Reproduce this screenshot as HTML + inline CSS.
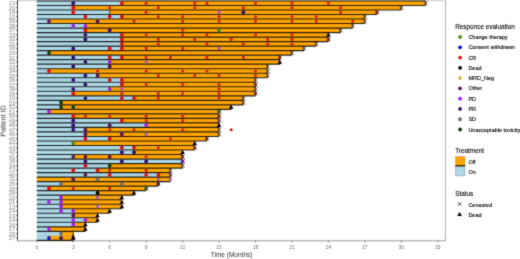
<!DOCTYPE html>
<html><head><meta charset="utf-8"><title>Swimmer plot</title>
<style>
html,body{margin:0;padding:0;background:#fff;}
body{width:520px;height:259px;overflow:hidden;}
svg{display:block;font-family:"Liberation Sans",sans-serif;will-change:transform;}
</style></head><body>
<svg width="520" height="259" viewBox="0 0 520 259">
<defs><filter id="soft" x="0" y="0" width="520" height="259" filterUnits="userSpaceOnUse" color-interpolation-filters="sRGB"><feConvolveMatrix order="3" kernelMatrix="1 2 1 2 16 2 1 2 1" edgeMode="duplicate"/></filter></defs>
<g filter="url(#soft)">
<rect width="520" height="259" fill="#fff"/>
<line x1="17.5" y1="0.6" x2="443.8" y2="0.6" stroke="#d6d6d6" stroke-width="1.2"/>
<line x1="445.4" y1="0" x2="445.4" y2="240.8" stroke="#a4a4a4" stroke-width="0.9"/>
<line x1="17.5" y1="0" x2="17.5" y2="240.8" stroke="#333" stroke-width="0.9"/>
<line x1="17.5" y1="240.8" x2="445.6" y2="240.8" stroke="#9a9a9a" stroke-width="1"/>
<rect x="36.8" y="0.95" width="85.05" height="4.52" fill="#add8e6"/>
<rect x="121.85" y="0.95" width="303.75" height="4.52" fill="#ffa500"/>
<rect x="36.8" y="5.47" width="36.45" height="4.52" fill="#add8e6"/>
<rect x="73.25" y="5.47" width="328.05" height="4.52" fill="#ffa500"/>
<rect x="36.8" y="9.99" width="72.9" height="4.52" fill="#add8e6"/>
<rect x="109.7" y="9.99" width="267.3" height="4.52" fill="#ffa500"/>
<rect x="36.8" y="14.5" width="85.05" height="4.52" fill="#add8e6"/>
<rect x="121.85" y="14.5" width="243" height="4.52" fill="#ffa500"/>
<rect x="36.8" y="19.02" width="12.15" height="4.52" fill="#add8e6"/>
<rect x="48.95" y="19.02" width="315.9" height="4.52" fill="#ffa500"/>
<rect x="36.8" y="23.54" width="48.6" height="4.52" fill="#add8e6"/>
<rect x="85.4" y="23.54" width="267.3" height="4.52" fill="#ffa500"/>
<rect x="36.8" y="28.05" width="48.6" height="4.52" fill="#add8e6"/>
<rect x="85.4" y="28.05" width="255.15" height="4.52" fill="#ffa500"/>
<rect x="36.8" y="32.57" width="85.05" height="4.52" fill="#add8e6"/>
<rect x="121.85" y="32.57" width="206.55" height="4.52" fill="#ffa500"/>
<rect x="36.8" y="37.09" width="85.05" height="4.52" fill="#add8e6"/>
<rect x="121.85" y="37.09" width="206.55" height="4.52" fill="#ffa500"/>
<rect x="36.8" y="41.6" width="85.05" height="4.52" fill="#add8e6"/>
<rect x="121.85" y="41.6" width="194.4" height="4.52" fill="#ffa500"/>
<rect x="36.8" y="46.12" width="85.05" height="4.52" fill="#add8e6"/>
<rect x="121.85" y="46.12" width="182.25" height="4.52" fill="#ffa500"/>
<rect x="36.8" y="50.64" width="12.15" height="4.52" fill="#add8e6"/>
<rect x="48.95" y="50.64" width="243" height="4.52" fill="#ffa500"/>
<rect x="36.8" y="55.16" width="85.05" height="4.52" fill="#add8e6"/>
<rect x="121.85" y="55.16" width="157.95" height="4.52" fill="#ffa500"/>
<rect x="36.8" y="59.67" width="72.9" height="4.52" fill="#add8e6"/>
<rect x="109.7" y="59.67" width="170.1" height="4.52" fill="#ffa500"/>
<rect x="36.8" y="64.19" width="72.9" height="4.52" fill="#add8e6"/>
<rect x="109.7" y="64.19" width="157.95" height="4.52" fill="#ffa500"/>
<rect x="36.8" y="68.71" width="12.15" height="4.52" fill="#add8e6"/>
<rect x="48.95" y="68.71" width="218.7" height="4.52" fill="#ffa500"/>
<rect x="36.8" y="73.22" width="60.75" height="4.52" fill="#add8e6"/>
<rect x="97.55" y="73.22" width="170.1" height="4.52" fill="#ffa500"/>
<rect x="36.8" y="77.74" width="85.05" height="4.52" fill="#add8e6"/>
<rect x="121.85" y="77.74" width="133.65" height="4.52" fill="#ffa500"/>
<rect x="36.8" y="82.26" width="85.05" height="4.52" fill="#add8e6"/>
<rect x="121.85" y="82.26" width="133.65" height="4.52" fill="#ffa500"/>
<rect x="36.8" y="86.77" width="72.9" height="4.52" fill="#add8e6"/>
<rect x="109.7" y="86.77" width="145.8" height="4.52" fill="#ffa500"/>
<rect x="36.8" y="91.29" width="36.45" height="4.52" fill="#add8e6"/>
<rect x="73.25" y="91.29" width="182.25" height="4.52" fill="#ffa500"/>
<rect x="36.8" y="95.81" width="97.2" height="4.52" fill="#add8e6"/>
<rect x="134" y="95.81" width="109.35" height="4.52" fill="#ffa500"/>
<rect x="36.8" y="100.33" width="24.3" height="4.52" fill="#add8e6"/>
<rect x="61.1" y="100.33" width="182.25" height="4.52" fill="#ffa500"/>
<rect x="36.8" y="104.84" width="24.3" height="4.52" fill="#add8e6"/>
<rect x="61.1" y="104.84" width="170.1" height="4.52" fill="#ffa500"/>
<rect x="36.8" y="109.36" width="12.15" height="4.52" fill="#add8e6"/>
<rect x="48.95" y="109.36" width="170.1" height="4.52" fill="#ffa500"/>
<rect x="36.8" y="113.88" width="36.45" height="4.52" fill="#add8e6"/>
<rect x="73.25" y="113.88" width="145.8" height="4.52" fill="#ffa500"/>
<rect x="36.8" y="118.39" width="85.05" height="4.52" fill="#add8e6"/>
<rect x="121.85" y="118.39" width="97.2" height="4.52" fill="#ffa500"/>
<rect x="36.8" y="122.91" width="109.35" height="4.52" fill="#add8e6"/>
<rect x="146.15" y="122.91" width="72.9" height="4.52" fill="#ffa500"/>
<rect x="36.8" y="127.43" width="48.6" height="4.52" fill="#add8e6"/>
<rect x="85.4" y="127.43" width="133.65" height="4.52" fill="#ffa500"/>
<rect x="36.8" y="131.94" width="48.6" height="4.52" fill="#add8e6"/>
<rect x="85.4" y="131.94" width="133.65" height="4.52" fill="#ffa500"/>
<rect x="36.8" y="136.46" width="72.9" height="4.52" fill="#add8e6"/>
<rect x="109.7" y="136.46" width="97.2" height="4.52" fill="#ffa500"/>
<rect x="36.8" y="140.98" width="36.45" height="4.52" fill="#add8e6"/>
<rect x="73.25" y="140.98" width="121.5" height="4.52" fill="#ffa500"/>
<rect x="36.8" y="145.5" width="97.2" height="4.52" fill="#add8e6"/>
<rect x="134" y="145.5" width="60.75" height="4.52" fill="#ffa500"/>
<rect x="36.8" y="150.01" width="97.2" height="4.52" fill="#add8e6"/>
<rect x="134" y="150.01" width="48.6" height="4.52" fill="#ffa500"/>
<rect x="36.8" y="154.53" width="36.45" height="4.52" fill="#add8e6"/>
<rect x="73.25" y="154.53" width="109.35" height="4.52" fill="#ffa500"/>
<rect x="36.8" y="159.05" width="145.8" height="4.52" fill="#add8e6"/>
<rect x="36.8" y="163.56" width="72.9" height="4.52" fill="#add8e6"/>
<rect x="109.7" y="163.56" width="72.9" height="4.52" fill="#ffa500"/>
<rect x="36.8" y="168.08" width="60.75" height="4.52" fill="#add8e6"/>
<rect x="97.55" y="168.08" width="72.9" height="4.52" fill="#ffa500"/>
<rect x="36.8" y="172.6" width="121.5" height="4.52" fill="#add8e6"/>
<rect x="158.3" y="172.6" width="12.15" height="4.52" fill="#ffa500"/>
<rect x="36.8" y="177.11" width="133.65" height="4.52" fill="#ffa500"/>
<rect x="36.8" y="181.63" width="24.3" height="4.52" fill="#add8e6"/>
<rect x="61.1" y="181.63" width="97.2" height="4.52" fill="#ffa500"/>
<rect x="36.8" y="186.15" width="12.15" height="4.52" fill="#add8e6"/>
<rect x="48.95" y="186.15" width="97.2" height="4.52" fill="#ffa500"/>
<rect x="36.8" y="190.67" width="60.75" height="4.52" fill="#add8e6"/>
<rect x="97.55" y="190.67" width="36.45" height="4.52" fill="#ffa500"/>
<rect x="36.8" y="195.18" width="24.3" height="4.52" fill="#add8e6"/>
<rect x="61.1" y="195.18" width="60.75" height="4.52" fill="#ffa500"/>
<rect x="36.8" y="199.7" width="24.3" height="4.52" fill="#add8e6"/>
<rect x="61.1" y="199.7" width="60.75" height="4.52" fill="#ffa500"/>
<rect x="36.8" y="204.22" width="24.3" height="4.52" fill="#add8e6"/>
<rect x="61.1" y="204.22" width="60.75" height="4.52" fill="#ffa500"/>
<rect x="36.8" y="208.73" width="36.45" height="4.52" fill="#add8e6"/>
<rect x="73.25" y="208.73" width="36.45" height="4.52" fill="#ffa500"/>
<rect x="36.8" y="213.25" width="36.45" height="4.52" fill="#add8e6"/>
<rect x="73.25" y="213.25" width="24.3" height="4.52" fill="#ffa500"/>
<rect x="36.8" y="217.77" width="48.6" height="4.52" fill="#add8e6"/>
<rect x="85.4" y="217.77" width="12.15" height="4.52" fill="#ffa500"/>
<rect x="36.8" y="222.28" width="36.45" height="4.52" fill="#add8e6"/>
<rect x="73.25" y="222.28" width="12.15" height="4.52" fill="#ffa500"/>
<rect x="36.8" y="226.8" width="12.15" height="4.52" fill="#add8e6"/>
<rect x="48.95" y="226.8" width="36.45" height="4.52" fill="#ffa500"/>
<rect x="36.8" y="231.32" width="24.3" height="4.52" fill="#add8e6"/>
<rect x="61.1" y="231.32" width="12.15" height="4.52" fill="#ffa500"/>
<rect x="36.8" y="235.84" width="12.15" height="4.52" fill="#add8e6"/>
<rect x="48.95" y="235.84" width="24.3" height="4.52" fill="#ffa500"/>
<path d="M121.85 0.95V5.47M425.6 0.95V5.47M73.25 5.47V9.99M401.3 5.47V9.99M109.7 9.99V14.5M377 9.99V14.5M121.85 14.5V19.02M364.85 14.5V19.02M48.95 19.02V23.54M364.85 19.02V23.54M85.4 23.54V28.05M352.7 23.54V28.05M85.4 28.05V32.57M340.55 28.05V32.57M121.85 32.57V37.09M328.4 32.57V37.09M121.85 37.09V41.6M328.4 37.09V41.6M121.85 41.6V46.12M316.25 41.6V46.12M121.85 46.12V50.64M304.1 46.12V50.64M48.95 50.64V55.16M291.95 50.64V55.16M121.85 55.16V59.67M279.8 55.16V59.67M109.7 59.67V64.19M279.8 59.67V64.19M109.7 64.19V68.71M267.65 64.19V68.71M48.95 68.71V73.22M267.65 68.71V73.22M97.55 73.22V77.74M267.65 73.22V77.74M121.85 77.74V82.26M255.5 77.74V82.26M121.85 82.26V86.77M255.5 82.26V86.77M109.7 86.77V91.29M255.5 86.77V91.29M73.25 91.29V95.81M255.5 91.29V95.81M134 95.81V100.33M243.35 95.81V100.33M61.1 100.33V104.84M243.35 100.33V104.84M61.1 104.84V109.36M231.2 104.84V109.36M48.95 109.36V113.88M219.05 109.36V113.88M73.25 113.88V118.39M219.05 113.88V118.39M121.85 118.39V122.91M219.05 118.39V122.91M146.15 122.91V127.43M219.05 122.91V127.43M85.4 127.43V131.94M219.05 127.43V131.94M85.4 131.94V136.46M219.05 131.94V136.46M109.7 136.46V140.98M206.9 136.46V140.98M73.25 140.98V145.5M194.75 140.98V145.5M134 145.5V150.01M194.75 145.5V150.01M134 150.01V154.53M182.6 150.01V154.53M73.25 154.53V159.05M182.6 154.53V159.05M182.6 159.05V163.56M109.7 163.56V168.08M182.6 163.56V168.08M97.55 168.08V172.6M170.45 168.08V172.6M158.3 172.6V177.11M170.45 172.6V177.11M170.45 177.11V181.63M61.1 181.63V186.15M158.3 181.63V186.15M48.95 186.15V190.67M146.15 186.15V190.67M97.55 190.67V195.18M134 190.67V195.18M61.1 195.18V199.7M121.85 195.18V199.7M61.1 199.7V204.22M121.85 199.7V204.22M61.1 204.22V208.73M121.85 204.22V208.73M73.25 208.73V213.25M109.7 208.73V213.25M73.25 213.25V217.77M97.55 213.25V217.77M85.4 217.77V222.28M97.55 217.77V222.28M73.25 222.28V226.8M85.4 222.28V226.8M48.95 226.8V231.32M85.4 226.8V231.32M61.1 231.32V235.84M73.25 231.32V235.84M48.95 235.84V240.35M73.25 235.84V240.35" stroke="rgba(0,0,0,0.8)" stroke-width="0.8" fill="none"/>
<line x1="36.8" y1="0.95" x2="425.6" y2="0.95" stroke="#000" stroke-opacity="0.85" stroke-width="1.15"/>
<line x1="36.8" y1="5.47" x2="425.6" y2="5.47" stroke="#000" stroke-opacity="0.85" stroke-width="1.15"/>
<line x1="36.8" y1="9.99" x2="401.3" y2="9.99" stroke="#000" stroke-opacity="0.85" stroke-width="1.15"/>
<line x1="36.8" y1="14.5" x2="377" y2="14.5" stroke="#000" stroke-opacity="0.85" stroke-width="1.15"/>
<line x1="36.8" y1="19.02" x2="364.85" y2="19.02" stroke="#000" stroke-opacity="0.85" stroke-width="1.15"/>
<line x1="36.8" y1="23.54" x2="364.85" y2="23.54" stroke="#000" stroke-opacity="0.85" stroke-width="1.15"/>
<line x1="36.8" y1="28.05" x2="352.7" y2="28.05" stroke="#000" stroke-opacity="0.85" stroke-width="1.15"/>
<line x1="36.8" y1="32.57" x2="340.55" y2="32.57" stroke="#000" stroke-opacity="0.85" stroke-width="1.15"/>
<line x1="36.8" y1="37.09" x2="328.4" y2="37.09" stroke="#000" stroke-opacity="0.85" stroke-width="1.15"/>
<line x1="36.8" y1="41.6" x2="328.4" y2="41.6" stroke="#000" stroke-opacity="0.85" stroke-width="1.15"/>
<line x1="36.8" y1="46.12" x2="316.25" y2="46.12" stroke="#000" stroke-opacity="0.85" stroke-width="1.15"/>
<line x1="36.8" y1="50.64" x2="304.1" y2="50.64" stroke="#000" stroke-opacity="0.85" stroke-width="1.15"/>
<line x1="36.8" y1="55.16" x2="291.95" y2="55.16" stroke="#000" stroke-opacity="0.85" stroke-width="1.15"/>
<line x1="36.8" y1="59.67" x2="279.8" y2="59.67" stroke="#000" stroke-opacity="0.85" stroke-width="1.15"/>
<line x1="36.8" y1="64.19" x2="279.8" y2="64.19" stroke="#000" stroke-opacity="0.85" stroke-width="1.15"/>
<line x1="36.8" y1="68.71" x2="267.65" y2="68.71" stroke="#000" stroke-opacity="0.85" stroke-width="1.15"/>
<line x1="36.8" y1="73.22" x2="267.65" y2="73.22" stroke="#000" stroke-opacity="0.85" stroke-width="1.15"/>
<line x1="36.8" y1="77.74" x2="267.65" y2="77.74" stroke="#000" stroke-opacity="0.85" stroke-width="1.15"/>
<line x1="36.8" y1="82.26" x2="255.5" y2="82.26" stroke="#000" stroke-opacity="0.85" stroke-width="1.15"/>
<line x1="36.8" y1="86.77" x2="255.5" y2="86.77" stroke="#000" stroke-opacity="0.85" stroke-width="1.15"/>
<line x1="36.8" y1="91.29" x2="255.5" y2="91.29" stroke="#000" stroke-opacity="0.85" stroke-width="1.15"/>
<line x1="36.8" y1="95.81" x2="255.5" y2="95.81" stroke="#000" stroke-opacity="0.85" stroke-width="1.15"/>
<line x1="36.8" y1="100.33" x2="243.35" y2="100.33" stroke="#000" stroke-opacity="0.85" stroke-width="1.15"/>
<line x1="36.8" y1="104.84" x2="243.35" y2="104.84" stroke="#000" stroke-opacity="0.85" stroke-width="1.15"/>
<line x1="36.8" y1="109.36" x2="231.2" y2="109.36" stroke="#000" stroke-opacity="0.85" stroke-width="1.15"/>
<line x1="36.8" y1="113.88" x2="219.05" y2="113.88" stroke="#000" stroke-opacity="0.85" stroke-width="1.15"/>
<line x1="36.8" y1="118.39" x2="219.05" y2="118.39" stroke="#000" stroke-opacity="0.85" stroke-width="1.15"/>
<line x1="36.8" y1="122.91" x2="219.05" y2="122.91" stroke="#000" stroke-opacity="0.85" stroke-width="1.15"/>
<line x1="36.8" y1="127.43" x2="219.05" y2="127.43" stroke="#000" stroke-opacity="0.85" stroke-width="1.15"/>
<line x1="36.8" y1="131.94" x2="219.05" y2="131.94" stroke="#000" stroke-opacity="0.85" stroke-width="1.15"/>
<line x1="36.8" y1="136.46" x2="219.05" y2="136.46" stroke="#000" stroke-opacity="0.85" stroke-width="1.15"/>
<line x1="36.8" y1="140.98" x2="206.9" y2="140.98" stroke="#000" stroke-opacity="0.85" stroke-width="1.15"/>
<line x1="36.8" y1="145.5" x2="194.75" y2="145.5" stroke="#000" stroke-opacity="0.85" stroke-width="1.15"/>
<line x1="36.8" y1="150.01" x2="194.75" y2="150.01" stroke="#000" stroke-opacity="0.85" stroke-width="1.15"/>
<line x1="36.8" y1="154.53" x2="182.6" y2="154.53" stroke="#000" stroke-opacity="0.85" stroke-width="1.15"/>
<line x1="36.8" y1="159.05" x2="182.6" y2="159.05" stroke="#000" stroke-opacity="0.85" stroke-width="1.15"/>
<line x1="36.8" y1="163.56" x2="182.6" y2="163.56" stroke="#000" stroke-opacity="0.85" stroke-width="1.15"/>
<line x1="36.8" y1="168.08" x2="182.6" y2="168.08" stroke="#000" stroke-opacity="0.85" stroke-width="1.15"/>
<line x1="36.8" y1="172.6" x2="170.45" y2="172.6" stroke="#000" stroke-opacity="0.85" stroke-width="1.15"/>
<line x1="36.8" y1="177.11" x2="170.45" y2="177.11" stroke="#000" stroke-opacity="0.85" stroke-width="1.15"/>
<line x1="36.8" y1="181.63" x2="170.45" y2="181.63" stroke="#000" stroke-opacity="0.85" stroke-width="1.15"/>
<line x1="36.8" y1="186.15" x2="158.3" y2="186.15" stroke="#000" stroke-opacity="0.85" stroke-width="1.15"/>
<line x1="36.8" y1="190.67" x2="146.15" y2="190.67" stroke="#000" stroke-opacity="0.85" stroke-width="1.15"/>
<line x1="36.8" y1="195.18" x2="134" y2="195.18" stroke="#000" stroke-opacity="0.85" stroke-width="1.15"/>
<line x1="36.8" y1="199.7" x2="121.85" y2="199.7" stroke="#000" stroke-opacity="0.85" stroke-width="1.15"/>
<line x1="36.8" y1="204.22" x2="121.85" y2="204.22" stroke="#000" stroke-opacity="0.85" stroke-width="1.15"/>
<line x1="36.8" y1="208.73" x2="121.85" y2="208.73" stroke="#000" stroke-opacity="0.85" stroke-width="1.15"/>
<line x1="36.8" y1="213.25" x2="109.7" y2="213.25" stroke="#000" stroke-opacity="0.85" stroke-width="1.15"/>
<line x1="36.8" y1="217.77" x2="97.55" y2="217.77" stroke="#000" stroke-opacity="0.85" stroke-width="1.15"/>
<line x1="36.8" y1="222.28" x2="97.55" y2="222.28" stroke="#000" stroke-opacity="0.85" stroke-width="1.15"/>
<line x1="36.8" y1="226.8" x2="85.4" y2="226.8" stroke="#000" stroke-opacity="0.85" stroke-width="1.15"/>
<line x1="36.8" y1="231.32" x2="85.4" y2="231.32" stroke="#000" stroke-opacity="0.85" stroke-width="1.15"/>
<line x1="36.8" y1="235.84" x2="73.25" y2="235.84" stroke="#000" stroke-opacity="0.2" stroke-width="0.5"/>
<line x1="36.8" y1="240.35" x2="73.25" y2="240.35" stroke="#000" stroke-opacity="0.85" stroke-width="1.15"/>
<circle cx="73.25" cy="3.21" r="1.9" fill="#2e1070"/>
<circle cx="121.85" cy="3.21" r="1.9" fill="#e40e0e"/>
<circle cx="146.15" cy="3.21" r="1.55" fill="#d8200a"/>
<circle cx="194.75" cy="3.21" r="1.55" fill="#d8200a"/>
<circle cx="206.9" cy="3.21" r="1.55" fill="#d8200a"/>
<circle cx="255.5" cy="3.21" r="1.55" fill="#d8200a"/>
<circle cx="291.95" cy="3.21" r="1.55" fill="#d8200a"/>
<circle cx="328.4" cy="3.21" r="1.55" fill="#d8200a"/>
<circle cx="73.25" cy="7.73" r="1.9" fill="#e40e0e"/>
<circle cx="109.7" cy="7.73" r="1.55" fill="#d8200a"/>
<circle cx="158.3" cy="7.73" r="1.55" fill="#d8200a"/>
<circle cx="194.75" cy="7.73" r="1.55" fill="#d8200a"/>
<circle cx="243.35" cy="7.73" r="1.55" fill="#d8200a"/>
<circle cx="291.95" cy="7.73" r="1.55" fill="#d8200a"/>
<circle cx="340.55" cy="7.73" r="1.55" fill="#d8200a"/>
<circle cx="73.25" cy="12.24" r="1.9" fill="#e40e0e"/>
<circle cx="146.15" cy="12.24" r="1.55" fill="#d8200a"/>
<circle cx="219.05" cy="12.24" r="1.55" fill="#a452d4"/>
<circle cx="243.35" cy="12.24" r="1.9" fill="#2e1070"/>
<circle cx="340.55" cy="12.24" r="1.55" fill="#d8200a"/>
<circle cx="377" cy="12.24" r="1.55" fill="#d8200a"/>
<circle cx="85.4" cy="16.76" r="1.9" fill="#e40e0e"/>
<circle cx="109.7" cy="16.76" r="1.9" fill="#e40e0e"/>
<circle cx="121.85" cy="16.76" r="1.9" fill="#e40e0e"/>
<circle cx="158.3" cy="16.76" r="1.55" fill="#d8200a"/>
<circle cx="182.6" cy="16.76" r="1.55" fill="#d8200a"/>
<circle cx="219.05" cy="16.76" r="1.55" fill="#d8200a"/>
<circle cx="255.5" cy="16.76" r="1.55" fill="#d8200a"/>
<circle cx="291.95" cy="16.76" r="1.55" fill="#d8200a"/>
<circle cx="316.25" cy="16.76" r="1.55" fill="#d8200a"/>
<circle cx="48.95" cy="21.28" r="1.9" fill="#561656"/>
<circle cx="97.55" cy="21.28" r="1.9" fill="#561656"/>
<circle cx="134" cy="21.28" r="1.55" fill="#d8200a"/>
<circle cx="182.6" cy="21.28" r="1.55" fill="#d8200a"/>
<circle cx="219.05" cy="21.28" r="1.55" fill="#d8200a"/>
<circle cx="255.5" cy="21.28" r="1.55" fill="#d8200a"/>
<circle cx="291.95" cy="21.28" r="1.55" fill="#d8200a"/>
<circle cx="316.25" cy="21.28" r="1.55" fill="#d8200a"/>
<circle cx="352.7" cy="21.28" r="1.55" fill="#d8200a"/>
<circle cx="73.25" cy="25.8" r="1.9" fill="#a020f0"/>
<circle cx="85.4" cy="25.8" r="1.9" fill="#a020f0"/>
<circle cx="85.4" cy="30.31" r="1.9" fill="#e40e0e"/>
<circle cx="109.7" cy="30.31" r="1.9" fill="#2e1070"/>
<circle cx="182.6" cy="30.31" r="1.55" fill="#d8200a"/>
<circle cx="219.05" cy="30.31" r="1.9" fill="#4f8a14"/>
<circle cx="85.4" cy="34.83" r="1.9" fill="#2e1070"/>
<circle cx="121.85" cy="34.83" r="1.9" fill="#e40e0e"/>
<circle cx="146.15" cy="34.83" r="1.55" fill="#d8200a"/>
<circle cx="182.6" cy="34.83" r="1.55" fill="#d8200a"/>
<circle cx="206.9" cy="34.83" r="1.55" fill="#d8200a"/>
<circle cx="255.5" cy="34.83" r="1.55" fill="#d8200a"/>
<circle cx="291.95" cy="34.83" r="1.55" fill="#d8200a"/>
<circle cx="85.4" cy="39.35" r="1.9" fill="#2e1070"/>
<circle cx="121.85" cy="39.35" r="1.9" fill="#e40e0e"/>
<circle cx="158.3" cy="39.35" r="1.55" fill="#d8200a"/>
<circle cx="194.75" cy="39.35" r="1.55" fill="#d8200a"/>
<circle cx="231.2" cy="39.35" r="1.55" fill="#d8200a"/>
<circle cx="267.65" cy="39.35" r="1.55" fill="#d8200a"/>
<circle cx="291.95" cy="39.35" r="1.55" fill="#d8200a"/>
<circle cx="328.4" cy="39.35" r="1.55" fill="#d8200a"/>
<circle cx="121.85" cy="43.86" r="1.9" fill="#e40e0e"/>
<circle cx="158.3" cy="43.86" r="1.55" fill="#d8200a"/>
<circle cx="206.9" cy="43.86" r="1.55" fill="#d8200a"/>
<circle cx="243.35" cy="43.86" r="1.55" fill="#d8200a"/>
<circle cx="267.65" cy="43.86" r="1.55" fill="#d8200a"/>
<circle cx="291.95" cy="43.86" r="1.55" fill="#d8200a"/>
<circle cx="73.25" cy="48.38" r="1.9" fill="#2e1070"/>
<circle cx="109.7" cy="48.38" r="1.9" fill="#e40e0e"/>
<circle cx="121.85" cy="48.38" r="1.9" fill="#e40e0e"/>
<circle cx="146.15" cy="48.38" r="1.55" fill="#d8200a"/>
<circle cx="182.6" cy="48.38" r="1.55" fill="#d8200a"/>
<circle cx="219.05" cy="48.38" r="1.55" fill="#a452d4"/>
<circle cx="48.95" cy="52.9" r="1.9" fill="#0b3d0b"/>
<circle cx="73.25" cy="57.41" r="1.9" fill="#2e1070"/>
<circle cx="109.7" cy="57.41" r="1.9" fill="#e40e0e"/>
<circle cx="121.85" cy="57.41" r="1.9" fill="#e40e0e"/>
<circle cx="146.15" cy="57.41" r="1.55" fill="#d8200a"/>
<circle cx="170.45" cy="57.41" r="1.55" fill="#d8200a"/>
<circle cx="206.9" cy="57.41" r="1.55" fill="#d8200a"/>
<circle cx="243.35" cy="57.41" r="1.55" fill="#d8200a"/>
<circle cx="279.8" cy="57.41" r="1.55" fill="#d8200a"/>
<circle cx="85.4" cy="61.93" r="1.9" fill="#2e1070"/>
<circle cx="109.7" cy="61.93" r="1.9" fill="#a020f0"/>
<circle cx="146.15" cy="61.93" r="1.55" fill="#a452d4"/>
<circle cx="73.25" cy="66.45" r="1.9" fill="#2e1070"/>
<circle cx="109.7" cy="66.45" r="1.9" fill="#561656"/>
<circle cx="48.95" cy="70.97" r="1.9" fill="#e40e0e"/>
<circle cx="97.55" cy="70.97" r="1.55" fill="#d8200a"/>
<circle cx="146.15" cy="70.97" r="1.55" fill="#d8200a"/>
<circle cx="182.6" cy="70.97" r="1.55" fill="#d8200a"/>
<circle cx="206.9" cy="70.97" r="1.55" fill="#d8200a"/>
<circle cx="255.5" cy="70.97" r="1.55" fill="#d8200a"/>
<circle cx="85.4" cy="75.48" r="1.9" fill="#2e1070"/>
<circle cx="97.55" cy="75.48" r="1.9" fill="#561656"/>
<circle cx="158.3" cy="75.48" r="1.55" fill="#d8200a"/>
<circle cx="194.75" cy="75.48" r="1.55" fill="#d8200a"/>
<circle cx="219.05" cy="75.48" r="1.55" fill="#d8200a"/>
<circle cx="255.5" cy="75.48" r="1.55" fill="#d8200a"/>
<circle cx="73.25" cy="80" r="1.9" fill="#2e1070"/>
<circle cx="109.7" cy="80" r="1.9" fill="#e40e0e"/>
<circle cx="121.85" cy="80" r="1.9" fill="#e40e0e"/>
<circle cx="85.4" cy="84.52" r="1.9" fill="#2e1070"/>
<circle cx="121.85" cy="84.52" r="1.9" fill="#e40e0e"/>
<circle cx="146.15" cy="84.52" r="1.55" fill="#d8200a"/>
<circle cx="182.6" cy="84.52" r="1.55" fill="#d8200a"/>
<circle cx="219.05" cy="84.52" r="1.55" fill="#d8200a"/>
<circle cx="255.5" cy="84.52" r="1.55" fill="#d8200a"/>
<circle cx="73.25" cy="89.03" r="1.9" fill="#2e1070"/>
<circle cx="109.7" cy="89.03" r="1.9" fill="#a020f0"/>
<circle cx="121.85" cy="89.03" r="1.55" fill="#a452d4"/>
<circle cx="219.05" cy="89.03" r="1.55" fill="#d8200a"/>
<circle cx="73.25" cy="93.55" r="1.9" fill="#e40e0e"/>
<circle cx="121.85" cy="93.55" r="1.55" fill="#d8200a"/>
<circle cx="158.3" cy="93.55" r="1.55" fill="#d8200a"/>
<circle cx="182.6" cy="93.55" r="1.55" fill="#d8200a"/>
<circle cx="219.05" cy="93.55" r="1.55" fill="#d8200a"/>
<circle cx="255.5" cy="93.55" r="1.55" fill="#d8200a"/>
<circle cx="85.4" cy="98.07" r="1.9" fill="#2e1070"/>
<circle cx="121.85" cy="98.07" r="1.9" fill="#e40e0e"/>
<circle cx="134" cy="98.07" r="1.9" fill="#e40e0e"/>
<circle cx="158.3" cy="98.07" r="1.55" fill="#d8200a"/>
<circle cx="219.05" cy="98.07" r="1.55" fill="#d8200a"/>
<circle cx="61.1" cy="102.58" r="1.9" fill="#0b3d0b"/>
<circle cx="61.1" cy="107.1" r="1.9" fill="#0b3d0b"/>
<circle cx="73.25" cy="107.1" r="1.9" fill="#0b3d0b"/>
<circle cx="48.95" cy="111.62" r="1.9" fill="#a020f0"/>
<circle cx="219.05" cy="111.62" r="1.9" fill="#4f8a14"/>
<circle cx="73.25" cy="116.14" r="1.9" fill="#e40e0e"/>
<circle cx="85.4" cy="116.14" r="1.55" fill="#d8200a"/>
<circle cx="109.7" cy="116.14" r="1.55" fill="#d8200a"/>
<circle cx="146.15" cy="116.14" r="1.55" fill="#d8200a"/>
<circle cx="182.6" cy="116.14" r="1.55" fill="#d8200a"/>
<circle cx="219.05" cy="116.14" r="1.55" fill="#d8200a"/>
<circle cx="73.25" cy="120.65" r="1.9" fill="#2e1070"/>
<circle cx="121.85" cy="120.65" r="1.9" fill="#e40e0e"/>
<circle cx="146.15" cy="120.65" r="1.55" fill="#d8200a"/>
<circle cx="182.6" cy="120.65" r="1.55" fill="#d8200a"/>
<circle cx="219.05" cy="120.65" r="1.55" fill="#a452d4"/>
<circle cx="73.25" cy="125.17" r="1.9" fill="#2e1070"/>
<circle cx="109.7" cy="125.17" r="1.9" fill="#561656"/>
<circle cx="146.15" cy="125.17" r="1.9" fill="#a020f0"/>
<circle cx="73.25" cy="129.69" r="1.9" fill="#2e1070"/>
<circle cx="85.4" cy="129.69" r="1.9" fill="#561656"/>
<circle cx="109.7" cy="129.69" r="1.55" fill="#d8200a"/>
<circle cx="134" cy="129.69" r="1.55" fill="#d8200a"/>
<circle cx="182.6" cy="129.69" r="1.55" fill="#d8200a"/>
<circle cx="231.2" cy="129.69" r="1.55" fill="#d8200a"/>
<circle cx="85.4" cy="134.2" r="1.9" fill="#561656"/>
<circle cx="121.85" cy="134.2" r="1.9" fill="#561656"/>
<circle cx="146.15" cy="134.2" r="1.55" fill="#a452d4"/>
<circle cx="85.4" cy="138.72" r="1.9" fill="#e40e0e"/>
<circle cx="109.7" cy="138.72" r="1.9" fill="#e40e0e"/>
<circle cx="170.45" cy="138.72" r="1.55" fill="#d8200a"/>
<circle cx="206.9" cy="138.72" r="1.55" fill="#d8200a"/>
<circle cx="73.25" cy="143.24" r="1.9" fill="#4f8a14"/>
<circle cx="121.85" cy="147.75" r="1.9" fill="#e40e0e"/>
<circle cx="134" cy="147.75" r="1.9" fill="#e40e0e"/>
<circle cx="158.3" cy="147.75" r="1.55" fill="#d8200a"/>
<circle cx="194.75" cy="147.75" r="1.55" fill="#d8200a"/>
<circle cx="121.85" cy="152.27" r="1.9" fill="#2e1070"/>
<circle cx="134" cy="152.27" r="1.9" fill="#2e1070"/>
<circle cx="73.25" cy="156.79" r="1.9" fill="#561656"/>
<circle cx="85.4" cy="156.79" r="1.9" fill="#561656"/>
<circle cx="109.7" cy="156.79" r="1.9" fill="#561656"/>
<circle cx="146.15" cy="156.79" r="1.55" fill="#d8200a"/>
<circle cx="182.6" cy="156.79" r="1.55" fill="#d8200a"/>
<circle cx="85.4" cy="161.31" r="1.9" fill="#2e1070"/>
<circle cx="121.85" cy="161.31" r="1.9" fill="#2e1070"/>
<circle cx="146.15" cy="161.31" r="1.9" fill="#2e1070"/>
<circle cx="182.6" cy="161.31" r="1.9" fill="#a020f0"/>
<circle cx="85.4" cy="165.82" r="1.9" fill="#e40e0e"/>
<circle cx="109.7" cy="165.82" r="1.9" fill="#0b3d0b"/>
<circle cx="73.25" cy="170.34" r="1.9" fill="#e40e0e"/>
<circle cx="97.55" cy="170.34" r="1.9" fill="#e40e0e"/>
<circle cx="109.7" cy="170.34" r="1.55" fill="#d8200a"/>
<circle cx="146.15" cy="170.34" r="1.55" fill="#d8200a"/>
<circle cx="85.4" cy="174.86" r="1.9" fill="#561656"/>
<circle cx="109.7" cy="174.86" r="1.9" fill="#e40e0e"/>
<circle cx="146.15" cy="174.86" r="1.9" fill="#e40e0e"/>
<circle cx="158.3" cy="174.86" r="1.9" fill="#e40e0e"/>
<circle cx="170.45" cy="174.86" r="1.55" fill="#a452d4"/>
<circle cx="73.25" cy="179.37" r="1.9" fill="#561656"/>
<circle cx="97.55" cy="179.37" r="1.9" fill="#6e6e6e"/>
<circle cx="158.3" cy="179.37" r="1.55" fill="#a452d4"/>
<circle cx="170.45" cy="179.37" r="1.55" fill="#a452d4"/>
<circle cx="61.1" cy="183.89" r="1.9" fill="#6e6e6e"/>
<circle cx="121.85" cy="183.89" r="1.9" fill="#6e6e6e"/>
<circle cx="158.3" cy="183.89" r="1.9" fill="#561656"/>
<circle cx="48.95" cy="188.41" r="1.9" fill="#e40e0e"/>
<circle cx="73.25" cy="188.41" r="1.55" fill="#d8200a"/>
<circle cx="109.7" cy="188.41" r="1.55" fill="#d8200a"/>
<circle cx="146.15" cy="188.41" r="1.9" fill="#4f8a14"/>
<circle cx="97.55" cy="192.92" r="1.9" fill="#000000"/>
<circle cx="61.1" cy="197.44" r="1.9" fill="#a020f0"/>
<circle cx="97.55" cy="197.44" r="1.55" fill="#a452d4"/>
<circle cx="48.95" cy="201.96" r="1.9" fill="#a020f0"/>
<circle cx="61.1" cy="201.96" r="1.9" fill="#a020f0"/>
<circle cx="61.1" cy="206.48" r="1.9" fill="#a020f0"/>
<circle cx="97.55" cy="206.48" r="1.55" fill="#a452d4"/>
<circle cx="61.1" cy="210.99" r="1.9" fill="#a020f0"/>
<circle cx="73.25" cy="210.99" r="1.9" fill="#a020f0"/>
<circle cx="73.25" cy="215.51" r="1.9" fill="#561656"/>
<circle cx="73.25" cy="220.03" r="1.9" fill="#a020f0"/>
<circle cx="85.4" cy="220.03" r="1.9" fill="#a020f0"/>
<circle cx="73.25" cy="224.54" r="1.9" fill="#a020f0"/>
<circle cx="48.95" cy="229.06" r="1.9" fill="#a020f0"/>
<circle cx="61.1" cy="233.58" r="1.9" fill="#6e6e6e"/>
<circle cx="48.95" cy="238.09" r="1.9" fill="#0a0ad0"/>
<circle cx="61.1" cy="238.09" r="1.9" fill="#2e1070"/>
<path d="M423.6 1.21L427.6 5.21M423.6 5.21L427.6 1.21" stroke="#333" stroke-width="0.85" fill="none"/>
<path d="M399.3 5.73L403.3 9.73M399.3 9.73L403.3 5.73" stroke="#333" stroke-width="0.85" fill="none"/>
<path d="M375 10.24L379 14.24M375 14.24L379 10.24" stroke="#333" stroke-width="0.85" fill="none"/>
<path d="M362.85 14.76L366.85 18.76M362.85 18.76L366.85 14.76" stroke="#333" stroke-width="0.85" fill="none"/>
<path d="M362.85 19.28L366.85 23.28M362.85 23.28L366.85 19.28" stroke="#333" stroke-width="0.85" fill="none"/>
<path d="M350.7 23.8L354.7 27.8M350.7 27.8L354.7 23.8" stroke="#333" stroke-width="0.85" fill="none"/>
<path d="M338.55 28.31L342.55 32.31M338.55 32.31L342.55 28.31" stroke="#333" stroke-width="0.85" fill="none"/>
<path d="M328.4 32.53L330.7 36.55L326.1 36.55Z" fill="#000"/>
<path d="M326.4 37.35L330.4 41.35M326.4 41.35L330.4 37.35" stroke="#333" stroke-width="0.85" fill="none"/>
<path d="M314.25 41.86L318.25 45.86M314.25 45.86L318.25 41.86" stroke="#333" stroke-width="0.85" fill="none"/>
<path d="M302.1 46.38L306.1 50.38M302.1 50.38L306.1 46.38" stroke="#333" stroke-width="0.85" fill="none"/>
<path d="M289.95 50.9L293.95 54.9M289.95 54.9L293.95 50.9" stroke="#333" stroke-width="0.85" fill="none"/>
<path d="M277.8 55.41L281.8 59.41M277.8 59.41L281.8 55.41" stroke="#333" stroke-width="0.85" fill="none"/>
<path d="M279.8 59.63L282.1 63.66L277.5 63.66Z" fill="#000"/>
<path d="M265.65 64.45L269.65 68.45M265.65 68.45L269.65 64.45" stroke="#333" stroke-width="0.85" fill="none"/>
<path d="M265.65 68.97L269.65 72.97M265.65 72.97L269.65 68.97" stroke="#333" stroke-width="0.85" fill="none"/>
<path d="M265.65 73.48L269.65 77.48M265.65 77.48L269.65 73.48" stroke="#333" stroke-width="0.85" fill="none"/>
<path d="M253.5 78L257.5 82M253.5 82L257.5 78" stroke="#333" stroke-width="0.85" fill="none"/>
<path d="M253.5 82.52L257.5 86.52M253.5 86.52L257.5 82.52" stroke="#333" stroke-width="0.85" fill="none"/>
<path d="M253.5 87.03L257.5 91.03M253.5 91.03L257.5 87.03" stroke="#333" stroke-width="0.85" fill="none"/>
<path d="M253.5 91.55L257.5 95.55M253.5 95.55L257.5 91.55" stroke="#333" stroke-width="0.85" fill="none"/>
<path d="M241.35 96.07L245.35 100.07M241.35 100.07L245.35 96.07" stroke="#333" stroke-width="0.85" fill="none"/>
<path d="M241.35 100.58L245.35 104.58M241.35 104.58L245.35 100.58" stroke="#333" stroke-width="0.85" fill="none"/>
<path d="M231.2 104.8L233.5 108.83L228.9 108.83Z" fill="#000"/>
<path d="M217.05 109.62L221.05 113.62M217.05 113.62L221.05 109.62" stroke="#333" stroke-width="0.85" fill="none"/>
<path d="M217.05 114.14L221.05 118.14M217.05 118.14L221.05 114.14" stroke="#333" stroke-width="0.85" fill="none"/>
<path d="M217.05 118.65L221.05 122.65M217.05 122.65L221.05 118.65" stroke="#333" stroke-width="0.85" fill="none"/>
<path d="M219.05 122.87L221.35 126.89L216.75 126.89Z" fill="#000"/>
<path d="M217.05 127.69L221.05 131.69M217.05 131.69L221.05 127.69" stroke="#333" stroke-width="0.85" fill="none"/>
<path d="M217.05 132.2L221.05 136.2M217.05 136.2L221.05 132.2" stroke="#333" stroke-width="0.85" fill="none"/>
<path d="M204.9 136.72L208.9 140.72M204.9 140.72L208.9 136.72" stroke="#333" stroke-width="0.85" fill="none"/>
<path d="M194.75 140.94L197.05 144.96L192.45 144.96Z" fill="#000"/>
<path d="M192.75 145.75L196.75 149.75M192.75 149.75L196.75 145.75" stroke="#333" stroke-width="0.85" fill="none"/>
<path d="M182.6 149.97L184.9 154L180.3 154Z" fill="#000"/>
<path d="M180.6 154.79L184.6 158.79M180.6 158.79L184.6 154.79" stroke="#333" stroke-width="0.85" fill="none"/>
<path d="M180.6 159.31L184.6 163.31M180.6 163.31L184.6 159.31" stroke="#333" stroke-width="0.85" fill="none"/>
<path d="M180.6 163.82L184.6 167.82M180.6 167.82L184.6 163.82" stroke="#333" stroke-width="0.85" fill="none"/>
<path d="M168.45 168.34L172.45 172.34M168.45 172.34L172.45 168.34" stroke="#333" stroke-width="0.85" fill="none"/>
<path d="M168.45 172.86L172.45 176.86M168.45 176.86L172.45 172.86" stroke="#333" stroke-width="0.85" fill="none"/>
<path d="M144.15 186.41L148.15 190.41M144.15 190.41L148.15 186.41" stroke="#333" stroke-width="0.85" fill="none"/>
<path d="M134 190.62L136.3 194.65L131.7 194.65Z" fill="#000"/>
<path d="M121.85 195.14L124.15 199.17L119.55 199.17Z" fill="#000"/>
<path d="M121.85 199.66L124.15 203.68L119.55 203.68Z" fill="#000"/>
<path d="M121.85 204.18L124.15 208.2L119.55 208.2Z" fill="#000"/>
<path d="M109.7 208.69L112 212.72L107.4 212.72Z" fill="#000"/>
<path d="M97.55 213.21L99.85 217.23L95.25 217.23Z" fill="#000"/>
<path d="M97.55 217.73L99.85 221.75L95.25 221.75Z" fill="#000"/>
<path d="M85.4 222.24L87.7 226.27L83.1 226.27Z" fill="#000"/>
<path d="M85.4 226.76L87.7 230.79L83.1 230.79Z" fill="#000"/>
<path d="M73.25 233.4L75.55 239.7L70.95 239.7Z" fill="#000"/>
<line x1="15.8" y1="3.21" x2="17.5" y2="3.21" stroke="#333" stroke-width="0.6"/>
<line x1="15.8" y1="7.73" x2="17.5" y2="7.73" stroke="#333" stroke-width="0.6"/>
<line x1="15.8" y1="12.24" x2="17.5" y2="12.24" stroke="#333" stroke-width="0.6"/>
<line x1="15.8" y1="16.76" x2="17.5" y2="16.76" stroke="#333" stroke-width="0.6"/>
<line x1="15.8" y1="21.28" x2="17.5" y2="21.28" stroke="#333" stroke-width="0.6"/>
<line x1="15.8" y1="25.8" x2="17.5" y2="25.8" stroke="#333" stroke-width="0.6"/>
<line x1="15.8" y1="30.31" x2="17.5" y2="30.31" stroke="#333" stroke-width="0.6"/>
<line x1="15.8" y1="34.83" x2="17.5" y2="34.83" stroke="#333" stroke-width="0.6"/>
<line x1="15.8" y1="39.35" x2="17.5" y2="39.35" stroke="#333" stroke-width="0.6"/>
<line x1="15.8" y1="43.86" x2="17.5" y2="43.86" stroke="#333" stroke-width="0.6"/>
<line x1="15.8" y1="48.38" x2="17.5" y2="48.38" stroke="#333" stroke-width="0.6"/>
<line x1="15.8" y1="52.9" x2="17.5" y2="52.9" stroke="#333" stroke-width="0.6"/>
<line x1="15.8" y1="57.41" x2="17.5" y2="57.41" stroke="#333" stroke-width="0.6"/>
<line x1="15.8" y1="61.93" x2="17.5" y2="61.93" stroke="#333" stroke-width="0.6"/>
<line x1="15.8" y1="66.45" x2="17.5" y2="66.45" stroke="#333" stroke-width="0.6"/>
<line x1="15.8" y1="70.97" x2="17.5" y2="70.97" stroke="#333" stroke-width="0.6"/>
<line x1="15.8" y1="75.48" x2="17.5" y2="75.48" stroke="#333" stroke-width="0.6"/>
<line x1="15.8" y1="80" x2="17.5" y2="80" stroke="#333" stroke-width="0.6"/>
<line x1="15.8" y1="84.52" x2="17.5" y2="84.52" stroke="#333" stroke-width="0.6"/>
<line x1="15.8" y1="89.03" x2="17.5" y2="89.03" stroke="#333" stroke-width="0.6"/>
<line x1="15.8" y1="93.55" x2="17.5" y2="93.55" stroke="#333" stroke-width="0.6"/>
<line x1="15.8" y1="98.07" x2="17.5" y2="98.07" stroke="#333" stroke-width="0.6"/>
<line x1="15.8" y1="102.58" x2="17.5" y2="102.58" stroke="#333" stroke-width="0.6"/>
<line x1="15.8" y1="107.1" x2="17.5" y2="107.1" stroke="#333" stroke-width="0.6"/>
<line x1="15.8" y1="111.62" x2="17.5" y2="111.62" stroke="#333" stroke-width="0.6"/>
<line x1="15.8" y1="116.14" x2="17.5" y2="116.14" stroke="#333" stroke-width="0.6"/>
<line x1="15.8" y1="120.65" x2="17.5" y2="120.65" stroke="#333" stroke-width="0.6"/>
<line x1="15.8" y1="125.17" x2="17.5" y2="125.17" stroke="#333" stroke-width="0.6"/>
<line x1="15.8" y1="129.69" x2="17.5" y2="129.69" stroke="#333" stroke-width="0.6"/>
<line x1="15.8" y1="134.2" x2="17.5" y2="134.2" stroke="#333" stroke-width="0.6"/>
<line x1="15.8" y1="138.72" x2="17.5" y2="138.72" stroke="#333" stroke-width="0.6"/>
<line x1="15.8" y1="143.24" x2="17.5" y2="143.24" stroke="#333" stroke-width="0.6"/>
<line x1="15.8" y1="147.75" x2="17.5" y2="147.75" stroke="#333" stroke-width="0.6"/>
<line x1="15.8" y1="152.27" x2="17.5" y2="152.27" stroke="#333" stroke-width="0.6"/>
<line x1="15.8" y1="156.79" x2="17.5" y2="156.79" stroke="#333" stroke-width="0.6"/>
<line x1="15.8" y1="161.31" x2="17.5" y2="161.31" stroke="#333" stroke-width="0.6"/>
<line x1="15.8" y1="165.82" x2="17.5" y2="165.82" stroke="#333" stroke-width="0.6"/>
<line x1="15.8" y1="170.34" x2="17.5" y2="170.34" stroke="#333" stroke-width="0.6"/>
<line x1="15.8" y1="174.86" x2="17.5" y2="174.86" stroke="#333" stroke-width="0.6"/>
<line x1="15.8" y1="179.37" x2="17.5" y2="179.37" stroke="#333" stroke-width="0.6"/>
<line x1="15.8" y1="183.89" x2="17.5" y2="183.89" stroke="#333" stroke-width="0.6"/>
<line x1="15.8" y1="188.41" x2="17.5" y2="188.41" stroke="#333" stroke-width="0.6"/>
<line x1="15.8" y1="192.92" x2="17.5" y2="192.92" stroke="#333" stroke-width="0.6"/>
<line x1="15.8" y1="197.44" x2="17.5" y2="197.44" stroke="#333" stroke-width="0.6"/>
<line x1="15.8" y1="201.96" x2="17.5" y2="201.96" stroke="#333" stroke-width="0.6"/>
<line x1="15.8" y1="206.48" x2="17.5" y2="206.48" stroke="#333" stroke-width="0.6"/>
<line x1="15.8" y1="210.99" x2="17.5" y2="210.99" stroke="#333" stroke-width="0.6"/>
<line x1="15.8" y1="215.51" x2="17.5" y2="215.51" stroke="#333" stroke-width="0.6"/>
<line x1="15.8" y1="220.03" x2="17.5" y2="220.03" stroke="#333" stroke-width="0.6"/>
<line x1="15.8" y1="224.54" x2="17.5" y2="224.54" stroke="#333" stroke-width="0.6"/>
<line x1="15.8" y1="229.06" x2="17.5" y2="229.06" stroke="#333" stroke-width="0.6"/>
<line x1="15.8" y1="233.58" x2="17.5" y2="233.58" stroke="#333" stroke-width="0.6"/>
<line x1="15.8" y1="238.09" x2="17.5" y2="238.09" stroke="#333" stroke-width="0.6"/>
<text x="15.4" y="240.19" text-anchor="end" font-size="6" fill="#8a8a8a">27</text>
<text x="15.4" y="235.68" text-anchor="end" font-size="6" fill="#8a8a8a">25</text>
<text x="15.4" y="231.16" text-anchor="end" font-size="6" fill="#8a8a8a">17</text>
<text x="15.4" y="226.64" text-anchor="end" font-size="6" fill="#8a8a8a">16</text>
<text x="15.4" y="222.13" text-anchor="end" font-size="6" fill="#8a8a8a">14</text>
<text x="15.4" y="217.61" text-anchor="end" font-size="6" fill="#8a8a8a">19</text>
<text x="15.4" y="213.09" text-anchor="end" font-size="6" fill="#8a8a8a">24</text>
<text x="15.4" y="208.58" text-anchor="end" font-size="6" fill="#8a8a8a">13</text>
<text x="15.4" y="204.06" text-anchor="end" font-size="6" fill="#8a8a8a">21</text>
<text x="15.4" y="199.54" text-anchor="end" font-size="6" fill="#8a8a8a">22</text>
<text x="15.4" y="195.02" text-anchor="end" font-size="6" fill="#8a8a8a">28</text>
<text x="15.4" y="190.51" text-anchor="end" font-size="6" fill="#8a8a8a">26</text>
<text x="15.4" y="185.99" text-anchor="end" font-size="6" fill="#8a8a8a">35</text>
<text x="15.4" y="181.47" text-anchor="end" font-size="6" fill="#8a8a8a">11</text>
<text x="15.4" y="176.96" text-anchor="end" font-size="6" fill="#8a8a8a">40</text>
<text x="15.4" y="172.44" text-anchor="end" font-size="6" fill="#8a8a8a">12</text>
<text x="15.4" y="167.92" text-anchor="end" font-size="6" fill="#8a8a8a">34</text>
<text x="15.4" y="163.41" text-anchor="end" font-size="6" fill="#8a8a8a">36</text>
<text x="15.4" y="158.89" text-anchor="end" font-size="6" fill="#8a8a8a">41</text>
<text x="15.4" y="154.37" text-anchor="end" font-size="6" fill="#8a8a8a">42</text>
<text x="15.4" y="149.85" text-anchor="end" font-size="6" fill="#8a8a8a">43</text>
<text x="15.4" y="145.34" text-anchor="end" font-size="6" fill="#8a8a8a">44</text>
<text x="15.4" y="140.82" text-anchor="end" font-size="6" fill="#8a8a8a">45</text>
<text x="15.4" y="136.3" text-anchor="end" font-size="6" fill="#8a8a8a">46</text>
<text x="15.4" y="131.79" text-anchor="end" font-size="6" fill="#8a8a8a">47</text>
<text x="15.4" y="127.27" text-anchor="end" font-size="6" fill="#8a8a8a">48</text>
<text x="15.4" y="122.75" text-anchor="end" font-size="6" fill="#8a8a8a">49</text>
<text x="15.4" y="118.23" text-anchor="end" font-size="6" fill="#8a8a8a">50</text>
<text x="15.4" y="113.72" text-anchor="end" font-size="6" fill="#8a8a8a">51</text>
<text x="15.4" y="109.2" text-anchor="end" font-size="6" fill="#8a8a8a">52</text>
<text x="15.4" y="104.68" text-anchor="end" font-size="6" fill="#8a8a8a">53</text>
<text x="15.4" y="100.17" text-anchor="end" font-size="6" fill="#8a8a8a">10</text>
<text x="15.4" y="95.65" text-anchor="end" font-size="6" fill="#8a8a8a">39</text>
<text x="15.4" y="91.13" text-anchor="end" font-size="6" fill="#8a8a8a">38</text>
<text x="15.4" y="86.62" text-anchor="end" font-size="6" fill="#8a8a8a">37</text>
<text x="15.4" y="82.1" text-anchor="end" font-size="6" fill="#8a8a8a">36</text>
<text x="15.4" y="77.58" text-anchor="end" font-size="6" fill="#8a8a8a">35</text>
<text x="15.4" y="73.06" text-anchor="end" font-size="6" fill="#8a8a8a">34</text>
<text x="15.4" y="68.55" text-anchor="end" font-size="6" fill="#8a8a8a">33</text>
<text x="15.4" y="64.03" text-anchor="end" font-size="6" fill="#8a8a8a">32</text>
<text x="15.4" y="59.51" text-anchor="end" font-size="6" fill="#8a8a8a">31</text>
<text x="15.4" y="55" text-anchor="end" font-size="6" fill="#8a8a8a">29</text>
<text x="15.4" y="50.48" text-anchor="end" font-size="6" fill="#8a8a8a">30</text>
<text x="15.4" y="45.96" text-anchor="end" font-size="6" fill="#8a8a8a">31</text>
<text x="15.4" y="41.45" text-anchor="end" font-size="6" fill="#8a8a8a">32</text>
<text x="15.4" y="36.93" text-anchor="end" font-size="6" fill="#8a8a8a">33</text>
<text x="15.4" y="32.41" text-anchor="end" font-size="6" fill="#8a8a8a">37</text>
<text x="15.4" y="27.9" text-anchor="end" font-size="6" fill="#8a8a8a">38</text>
<text x="15.4" y="23.38" text-anchor="end" font-size="6" fill="#8a8a8a">39</text>
<text x="15.4" y="18.86" text-anchor="end" font-size="6" fill="#8a8a8a">15</text>
<text x="15.4" y="14.34" text-anchor="end" font-size="6" fill="#8a8a8a">18</text>
<text x="15.4" y="9.83" text-anchor="end" font-size="6" fill="#8a8a8a">20</text>
<text x="15.4" y="5.31" text-anchor="end" font-size="6" fill="#8a8a8a">23</text>
<line x1="36.8" y1="240.8" x2="36.8" y2="242.4" stroke="#333" stroke-width="0.6"/>
<text x="36.8" y="248.9" text-anchor="middle" font-size="4.9" fill="#707070">0</text>
<line x1="73.25" y1="240.8" x2="73.25" y2="242.4" stroke="#333" stroke-width="0.6"/>
<text x="73.25" y="248.9" text-anchor="middle" font-size="4.9" fill="#707070">3</text>
<line x1="109.7" y1="240.8" x2="109.7" y2="242.4" stroke="#333" stroke-width="0.6"/>
<text x="109.7" y="248.9" text-anchor="middle" font-size="4.9" fill="#707070">6</text>
<line x1="146.15" y1="240.8" x2="146.15" y2="242.4" stroke="#333" stroke-width="0.6"/>
<text x="146.15" y="248.9" text-anchor="middle" font-size="4.9" fill="#707070">9</text>
<line x1="182.6" y1="240.8" x2="182.6" y2="242.4" stroke="#333" stroke-width="0.6"/>
<text x="182.6" y="248.9" text-anchor="middle" font-size="4.9" fill="#707070">12</text>
<line x1="219.05" y1="240.8" x2="219.05" y2="242.4" stroke="#333" stroke-width="0.6"/>
<text x="219.05" y="248.9" text-anchor="middle" font-size="4.9" fill="#707070">15</text>
<line x1="255.5" y1="240.8" x2="255.5" y2="242.4" stroke="#333" stroke-width="0.6"/>
<text x="255.5" y="248.9" text-anchor="middle" font-size="4.9" fill="#707070">18</text>
<line x1="291.95" y1="240.8" x2="291.95" y2="242.4" stroke="#333" stroke-width="0.6"/>
<text x="291.95" y="248.9" text-anchor="middle" font-size="4.9" fill="#707070">21</text>
<line x1="328.4" y1="240.8" x2="328.4" y2="242.4" stroke="#333" stroke-width="0.6"/>
<text x="328.4" y="248.9" text-anchor="middle" font-size="4.9" fill="#707070">24</text>
<line x1="364.85" y1="240.8" x2="364.85" y2="242.4" stroke="#333" stroke-width="0.6"/>
<text x="364.85" y="248.9" text-anchor="middle" font-size="4.9" fill="#707070">27</text>
<line x1="401.3" y1="240.8" x2="401.3" y2="242.4" stroke="#333" stroke-width="0.6"/>
<text x="401.3" y="248.9" text-anchor="middle" font-size="4.9" fill="#707070">30</text>
<line x1="437.75" y1="240.8" x2="437.75" y2="242.4" stroke="#333" stroke-width="0.6"/>
<text x="437.75" y="248.9" text-anchor="middle" font-size="4.9" fill="#707070">33</text>
<text x="231.6" y="256.5" text-anchor="middle" font-size="6.5" fill="#333">Time (Months)</text>
<text x="0" y="0" transform="translate(5.6 121) rotate(-90)" text-anchor="middle" font-size="7.2" fill="#333">Patient ID</text>
<text x="455.2" y="29" font-size="6.4" fill="#000" stroke="#000" stroke-width="0.1">Responce evaluation</text>
<circle cx="460.1" cy="37" r="1.9" fill="#4f8a14"/>
<text x="468.4" y="39" font-size="5.5" fill="#000" stroke="#000" stroke-width="0.12">Change therapy</text>
<circle cx="460.1" cy="47.28" r="1.9" fill="#0a0ad0"/>
<text x="468.4" y="49.28" font-size="5.5" fill="#000" stroke="#000" stroke-width="0.12">Consent withdrawn</text>
<circle cx="460.1" cy="57.56" r="1.9" fill="#e40e0e"/>
<text x="468.4" y="59.56" font-size="5.5" fill="#000" stroke="#000" stroke-width="0.12">CR</text>
<circle cx="460.1" cy="67.84" r="1.9" fill="#000000"/>
<text x="468.4" y="69.84" font-size="5.5" fill="#000" stroke="#000" stroke-width="0.12">Dead</text>
<circle cx="460.1" cy="78.12" r="1.9" fill="#e0b030"/>
<text x="468.4" y="80.12" font-size="5.5" fill="#000" stroke="#000" stroke-width="0.12">MRD_Neg</text>
<circle cx="460.1" cy="88.4" r="1.9" fill="#561656"/>
<text x="468.4" y="90.4" font-size="5.5" fill="#000" stroke="#000" stroke-width="0.12">Other</text>
<circle cx="460.1" cy="98.68" r="1.9" fill="#a020f0"/>
<text x="468.4" y="100.68" font-size="5.5" fill="#000" stroke="#000" stroke-width="0.12">PD</text>
<circle cx="460.1" cy="108.96" r="1.9" fill="#2e1070"/>
<text x="468.4" y="110.96" font-size="5.5" fill="#000" stroke="#000" stroke-width="0.12">PR</text>
<circle cx="460.1" cy="119.24" r="1.9" fill="#6e6e6e"/>
<text x="468.4" y="121.24" font-size="5.5" fill="#000" stroke="#000" stroke-width="0.12">SD</text>
<circle cx="460.1" cy="129.52" r="1.9" fill="#0b3d0b"/>
<text x="468.4" y="131.52" font-size="5.5" fill="#000" stroke="#000" stroke-width="0.12">Unacceptable toxicity</text>
<text x="455.2" y="152.6" font-size="6.4" fill="#000" stroke="#000" stroke-width="0.1">Treatment</text>
<rect x="455.6" y="156.6" width="9.3" height="9.4" fill="#ffa500" stroke="rgba(0,0,0,0.3)" stroke-width="0.6"/>
<rect x="455.6" y="166.4" width="9.3" height="9.5" fill="#add8e6" stroke="rgba(0,0,0,0.3)" stroke-width="0.6"/>
<line x1="455.3" y1="165.8" x2="465.2" y2="165.8" stroke="#000" stroke-width="1.1" stroke-opacity="0.85"/>
<text x="468.4" y="163.6" font-size="5.5" fill="#000" stroke="#000" stroke-width="0.12">Off</text>
<text x="468.4" y="173.6" font-size="5.5" fill="#000" stroke="#000" stroke-width="0.12">On</text>
<text x="455.2" y="195.8" font-size="6.4" fill="#000" stroke="#000" stroke-width="0.1">Status</text>
<path d="M458 202.4L461.2 205.6M458 205.6L461.2 202.4" stroke="#111" stroke-width="0.8" fill="none"/>
<path d="M459.6 211.9L462 216L457.2 216Z" fill="#000"/>
<text x="468.4" y="206.6" font-size="5.5" fill="#000" stroke="#000" stroke-width="0.12">Censored</text>
<text x="468.4" y="216.8" font-size="5.5" fill="#000" stroke="#000" stroke-width="0.12">Dead</text>
</g>
</svg>
</body></html>
